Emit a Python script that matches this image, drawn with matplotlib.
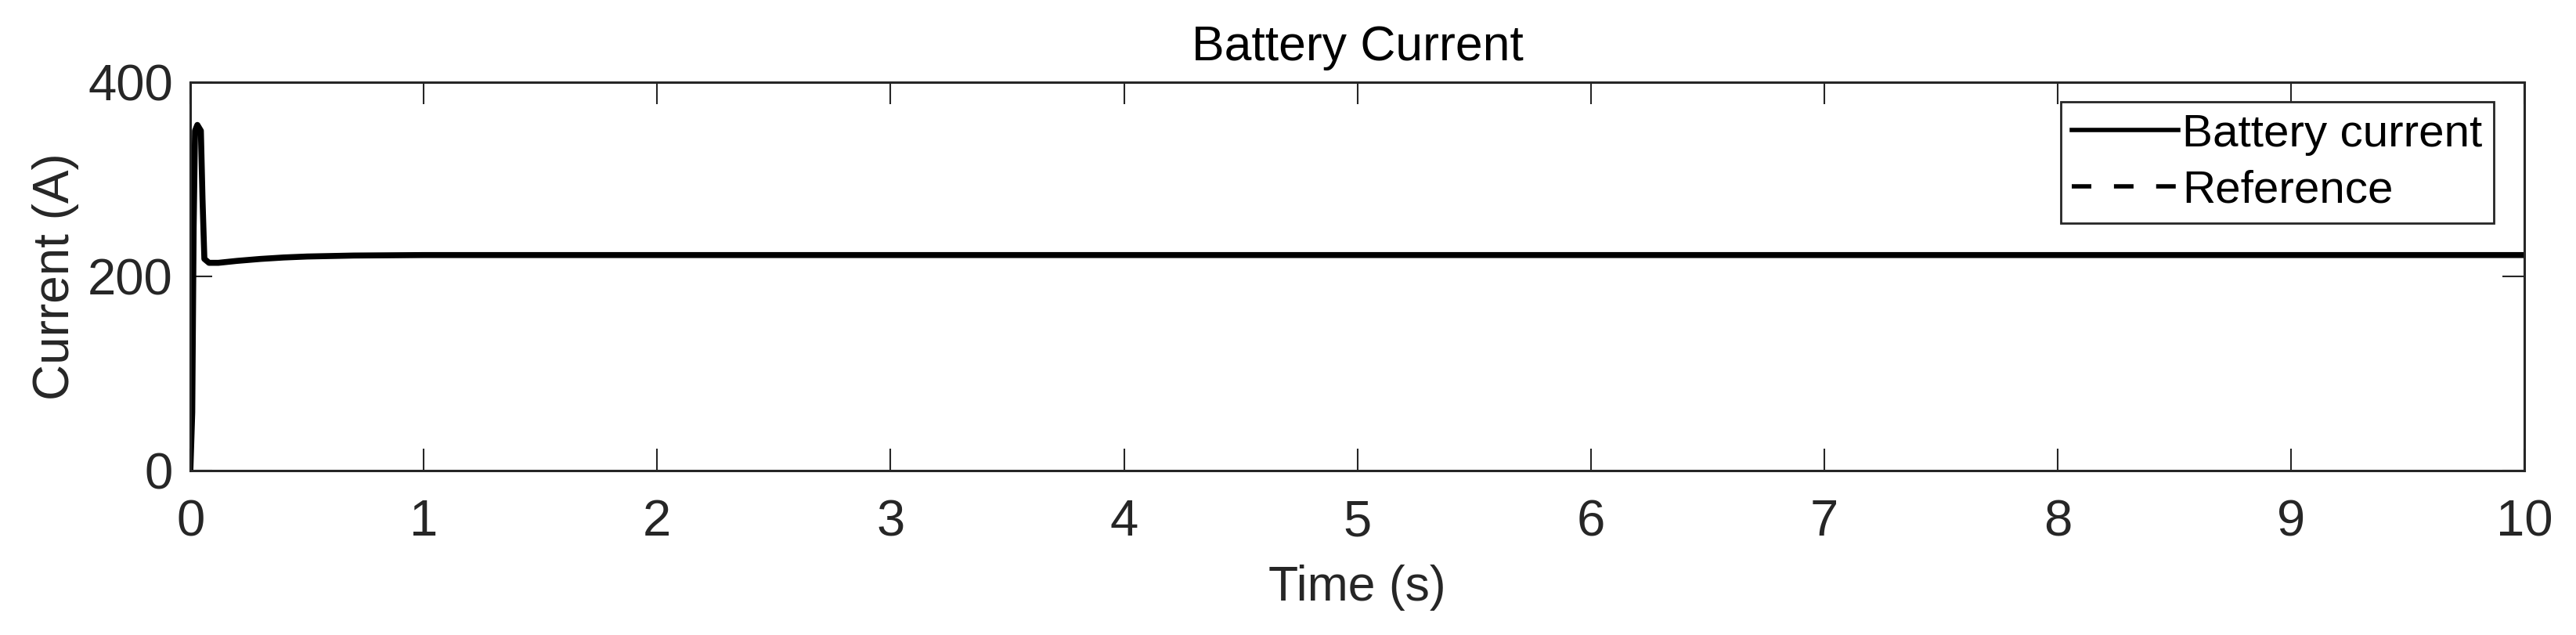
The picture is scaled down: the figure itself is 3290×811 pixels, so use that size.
import matplotlib
matplotlib.use('Agg')
import matplotlib.pyplot as plt

# battery current (s, A)
t_batt = [0, 0.008, 0.014, 0.02, 0.03, 0.045, 0.052, 0.06, 0.08, 0.12,
          0.2, 0.3, 0.4, 0.5, 0.7, 1.0, 1.5, 2, 3, 4, 5, 6, 7, 8, 9, 10]
i_batt = [0, 60, 250, 350, 356, 350, 280, 218, 214, 214,
          216, 218, 219.5, 220.5, 221.5, 222, 222, 222, 222, 222, 222, 222, 222, 222, 222, 222]

# reference current (hidden under the measured trace)
t_ref = [0.06, 0.08, 0.12, 0.2, 0.3, 0.4, 0.5, 0.7, 1.0, 10]
i_ref = [218, 214, 214, 216, 218, 219.5, 220.5, 221.5, 222, 222]

xticks = [0, 1, 2, 3, 4, 5, 6, 7, 8, 9, 10]
yticks = [0, 200, 400]

plt.rcParams['font.family'] = ['Liberation Sans', 'DejaVu Sans']

fig = plt.figure(figsize=(32.9, 8.11), dpi=100)
ax = fig.add_axes([0.0739, 0.2589, 0.9061, 0.6116])

ax.plot(t_batt, i_batt, color='black', lw=5.5, label='Battery current')
ax.plot(t_ref, i_ref, color='black', lw=4, ls=(0, (4.5, 5.2)), label='Reference')

ax.set_xlim(0, 10)
ax.set_ylim(0, 400)
ax.set_xticks(xticks)
ax.set_yticks(yticks)
ax.tick_params(direction='in', length=20, width=1.5, top=True, right=True,
               labelsize=47, colors='#262626')
ax.tick_params(axis='x', pad=26)
ax.tick_params(axis='y', pad=16)
for s in ax.spines.values():
    s.set_linewidth(2.2)
    s.set_color('#262626')

ax.set_xlabel('Time (s)', fontsize=45, color='#262626', labelpad=17)
ax.set_ylabel('Current (A)', fontsize=46, color='#262626', labelpad=8)
ax.set_title('Battery Current', fontsize=45, pad=20)

leg = ax.legend(loc='upper right', bbox_to_anchor=(0.9869, 0.9497), borderaxespad=0,
                fontsize=42, handlelength=2.33, handletextpad=0.09,
                borderpad=0.25, labelspacing=0.31, fancybox=False, framealpha=1,
                edgecolor='#262626')
leg.get_frame().set_linewidth(2)
for ln in leg.get_lines():
    ln.set_linewidth(4)

fig.savefig('out.png', dpi=100)
